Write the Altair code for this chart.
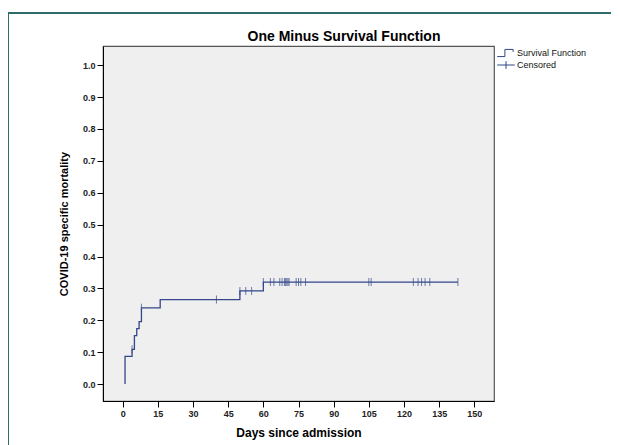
import altair as alt
import pandas as pd

# Survival (one minus) step function
step_days = [1, 1, 4, 5, 6, 7, 8, 16, 50, 60, 143]
step_mortality = [0.0, 0.087, 0.109, 0.152, 0.174, 0.196, 0.239, 0.265, 0.292, 0.320, 0.320]

# Censored observations
censor_days = [4, 8, 40, 50, 52.5, 55, 60, 63, 64.5, 67, 68, 69, 69.5, 70, 70.5, 71,
               74, 75, 76, 78, 105, 106, 124, 126, 127.5, 129, 131, 143]
censor_mortality = [0.109, 0.239, 0.265, 0.292, 0.292, 0.292] + [0.320] * 22

legend_names = ["Survival Function", "Censored"]
title_text = "One Minus Survival Function"

x_ticks = [0, 15, 30, 45, 60, 75, 90, 105, 120, 135, 150]
y_ticks = [0.0, 0.1, 0.2, 0.3, 0.4, 0.5, 0.6, 0.7, 0.8, 0.9, 1.0]

LINE = "#33478a"
FONT = "Liberation Sans"
W, H = 391, 355

step_df = pd.DataFrame({"day": step_days, "mort": step_mortality, "i": range(len(step_days))})
cens_df = pd.DataFrame({"day": censor_days, "mort": censor_mortality, "series": "Censored"})

xs = alt.Scale(domain=[-8.4, 158.4], nice=False, zero=False)
ys = alt.Scale(domain=[-0.053, 1.06], nice=False, zero=False)

xax = alt.Axis(values=x_ticks, title="Days since admission", grid=False, labelFlush=False,
               labelOverlap=False, titleFontSize=12, titleFontWeight="bold", titlePadding=9)
yax = alt.Axis(values=y_ticks, format=".1f", title="COVID-19 specific mortality", grid=False,
               labelFlush=False, labelOverlap=False, titleFontSize=11, titleFontWeight="bold",
               titlePadding=13)

X = alt.X("day:Q", scale=xs, axis=xax)
Y = alt.Y("mort:Q", scale=ys, axis=yax)

line = alt.Chart(step_df).mark_line(interpolate="step-after", color=LINE, strokeWidth=1.3).encode(
    x=X, y=Y, order=alt.Order("i:Q"),
)

ticks = alt.Chart(cens_df).mark_tick(orient="vertical", size=8, thickness=1, color=LINE).encode(
    x=X, y=Y,
)

step_path = "M-1.6,0.65H-0.2V-0.65H1.3V-0.2"
cross_path = "M-1.6,0H1.6M0,-0.7V0.7"

legend_layer = alt.Chart(cens_df).mark_point(opacity=0, filled=False, color=LINE).encode(
    x=X, y=Y,
    shape=alt.Shape("series:N", scale=alt.Scale(domain=legend_names, range=[step_path, cross_path]),
                    legend=alt.Legend(title=None, orient="none", legendX=397, legendY=1,
                                      symbolSize=121, symbolOpacity=1, symbolStrokeColor=LINE,
                                      symbolStrokeWidth=1, symbolFillColor="transparent",
                                      labelFontSize=9, labelFont=FONT, labelColor="#111",
                                      labelOffset=5, rowPadding=0, padding=0)),
)

title = alt.Chart(step_df.head(1)).mark_text(
    text=title_text, font=FONT, fontSize=14, fontWeight="bold", color="#000",
    align="center", baseline="alphabetic",
).encode(x=alt.value(241), y=alt.value(-5))

frame_left = alt.Chart(step_df).mark_rule(color="#2f6f6b", strokeWidth=1.2).encode(
    x=alt.value(-95), y=alt.value(-33), y2=alt.value(H + 100)
)
frame_top = alt.Chart(step_df).mark_rule(color="#2f6f6b", strokeWidth=1.2).encode(
    x=alt.value(-95), x2=alt.value(W + 200), y=alt.value(-33)
)

chart = alt.layer(line, ticks, legend_layer, title, frame_left, frame_top).properties(
    width=W, height=H,
    autosize=alt.AutoSizeParams(type="none"),
    padding={"left": 95, "top": 38, "right": 117, "bottom": 44},
    background="white",
).configure_view(
    fill="#efefef", stroke="#555555", strokeWidth=1.2
).configure_axis(
    labelFont=FONT, titleFont=FONT, labelFontSize=9, labelFontWeight="bold", labelColor="#222",
    titleColor="#000", domainColor="#000", tickColor="#000", tickSize=6, labelPadding=2,
    domainWidth=1,
)

chart.save("out.html", embed_options={"renderer": "svg", "actions": False})
